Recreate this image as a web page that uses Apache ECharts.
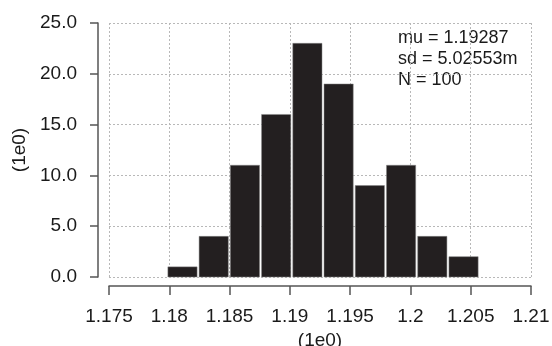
<!DOCTYPE html>
<html>
<head>
<meta charset="utf-8">
<script src="https://cdn.jsdelivr.net/npm/echarts@6/dist/echarts.min.js"></script>
<style>
  html, body { margin: 0; padding: 0; background: #fff; }
  #main { width: 552px; height: 346px; }
</style>
</head>
<body>
<div id="main"></div>
<script>
// histogram bins (left/right edges) and counts
const binEdges = [1.1798, 1.18239, 1.18498, 1.18757, 1.19016, 1.19275, 1.19534, 1.19793, 1.20052, 1.20311, 1.2057]
const counts = [1, 4, 11, 16, 23, 19, 9, 11, 4, 2]
const statsText = ['mu = 1.19287', 'sd = 5.02553m', 'N = 100']

const bins = counts.map((c, i) => [binEdges[i], binEdges[i + 1], c])

const textColor = '#1a1a1a'
const axisColor = '#555'
const gridColor = '#b8b8b8'
const font = 'Liberation Sans, Arial, Helvetica, sans-serif'

const chart = echarts.init(document.getElementById('main'))
chart.setOption({
  animation: false,
  grid: { left: 109, right: 21, top: 23, bottom: 69, outerBoundsMode: 'none', containLabel: false },
  xAxis: {
    type: 'value',
    min: 1.175,
    max: 1.21,
    interval: 0.005,
    offset: 9,
    name: '(1e0)',
    nameLocation: 'middle',
    nameGap: 45,
    nameTextStyle: { color: textColor, fontSize: 19, fontFamily: font },
    axisLine: { show: true, onZero: false, lineStyle: { color: axisColor, width: 1.5 } },
    axisTick: { show: true, length: 9, lineStyle: { color: axisColor, width: 1.5 } },
    axisLabel: {
      color: textColor,
      fontSize: 19,
      fontFamily: font,
      margin: 21,
      showMinLabel: true,
      showMaxLabel: true,
      formatter: v => String(parseFloat(v.toFixed(3)))
    },
    splitLine: { show: true, lineStyle: { type: [2, 2], color: gridColor, width: 1 } }
  },
  yAxis: {
    type: 'value',
    min: 0,
    max: 25,
    interval: 5,
    offset: 11,
    name: '(1e0)',
    nameLocation: 'middle',
    nameRotate: 90,
    nameGap: 62,
    nameTextStyle: { color: textColor, fontSize: 19, fontFamily: font },
    axisLine: { show: true, onZero: false, lineStyle: { color: axisColor, width: 1.5 } },
    axisTick: { show: true, length: 8, lineStyle: { color: axisColor, width: 1.5 } },
    axisLabel: {
      color: textColor,
      fontSize: 19,
      fontFamily: font,
      margin: 21,
      formatter: v => v.toFixed(1)
    },
    splitLine: { show: true, lineStyle: { type: [2, 2], color: gridColor, width: 1 } }
  },
  graphic: [{
    type: 'text',
    left: 398,
    top: 28,
    style: {
      text: statsText.join('\n'),
      fill: textColor,
      font: '18px ' + font,
      lineHeight: 21
    }
  }],
  series: [{
    type: 'custom',
    data: bins,
    encode: { x: [0, 1], y: 2 },
    renderItem(params, api) {
      const p0 = api.coord([api.value(0), api.value(2)])
      const p1 = api.coord([api.value(1), 0])
      return {
        type: 'rect',
        shape: {
          x: p0[0] + 1,
          y: p0[1],
          width: p1[0] - p0[0] - 2,
          height: p1[1] - p0[1]
        },
        style: { fill: '#231f20', stroke: '#888', lineWidth: 0.5 }
      }
    }
  }]
})
</script>
</body>
</html>
